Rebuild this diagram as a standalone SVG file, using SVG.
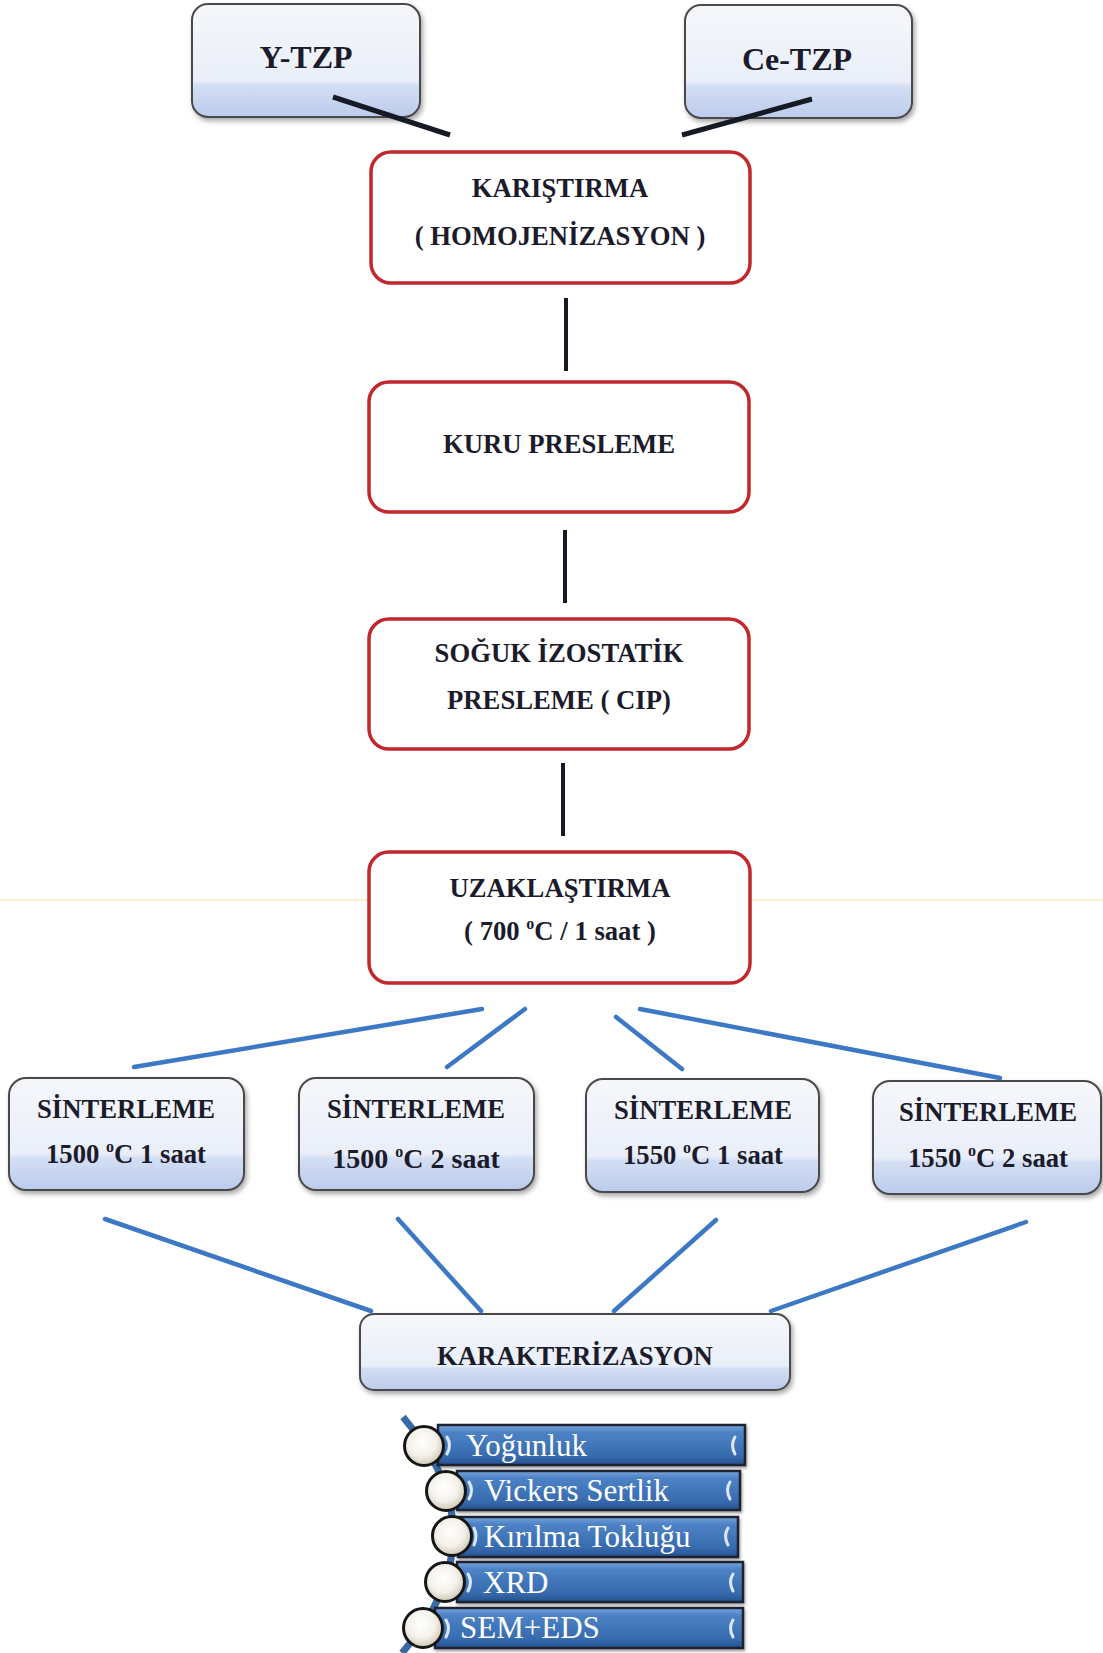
<svg xmlns="http://www.w3.org/2000/svg" width="1103" height="1653" viewBox="0 0 1103 1653">
<defs>
<linearGradient id="lb" x1="0" y1="0" x2="0" y2="1">
<stop offset="0" stop-color="#f6f7fb"/>
<stop offset="0.68" stop-color="#e9eef8"/>
<stop offset="0.72" stop-color="#d3def4"/>
<stop offset="1" stop-color="#bccbec"/>
</linearGradient>
<linearGradient id="bar" x1="0" y1="0" x2="0" y2="1">
<stop offset="0" stop-color="#79a5dc"/>
<stop offset="0.18" stop-color="#4d83c6"/>
<stop offset="0.8" stop-color="#3669ad"/>
<stop offset="1" stop-color="#24508c"/>
</linearGradient>
<radialGradient id="circ" cx="0.45" cy="0.4" r="0.6">
<stop offset="0" stop-color="#ffffff"/>
<stop offset="0.6" stop-color="#f4f1ea"/>
<stop offset="1" stop-color="#cfc7b6"/>
</radialGradient>
<filter id="sh" x="-10%" y="-10%" width="125%" height="135%">
<feDropShadow dx="2" dy="3" stdDeviation="2.5" flood-color="#000" flood-opacity="0.35"/>
</filter>
<filter id="sh2" x="-10%" y="-20%" width="125%" height="150%">
<feDropShadow dx="1" dy="2" stdDeviation="1.5" flood-color="#000" flood-opacity="0.4"/>
</filter>
</defs>
<style>
.t{font-family:"Liberation Serif","Times New Roman",serif;font-weight:bold;fill:#1b1b2b;text-anchor:middle;font-size:26.7px}
.big{font-size:32px}
.b28{font-size:28px}
.lt{font-family:"Liberation Serif","Times New Roman",serif;fill:#ffffff;font-size:31px}
.lbx{fill:url(#lb);stroke:#4a4a4a;stroke-width:2;filter:url(#sh)}
.rbx{fill:#ffffff;stroke:#c1272d;stroke-width:3.5}
.blk{stroke:#161a24;stroke-width:5;stroke-linecap:butt}
.vl{stroke:#161a24;stroke-width:4}
.bl{stroke:#3c78c3;stroke-width:4.5;stroke-linecap:round}
.barr{fill:url(#bar);stroke:#1c2230;stroke-width:2.5;filter:url(#sh2)}
.cc{fill:url(#circ);stroke:#161616;stroke-width:3}
.dec{fill:none;stroke:#dce8f8;stroke-width:3;stroke-linecap:round}
.sup{font-size:16px}
</style>

<line x1="0" y1="900" x2="1103" y2="900" stroke="#f3e4a6" stroke-width="1.5" opacity="0.7"/>

<g id="n-ytzp">
<rect class="lbx" x="192" y="4" width="228" height="113" rx="16"/>
<text class="t big" x="306" y="68">Y-TZP</text>
</g>
<g id="n-cetzp">
<rect class="lbx" x="685" y="5" width="227" height="113" rx="16"/>
<text class="t big" x="797" y="70">Ce-TZP</text>
</g>

<g id="n-karistirma">
<rect class="rbx" x="371" y="152" width="379" height="131" rx="20"/>
<text class="t" x="560" y="197">KARIŞTIRMA</text>
<text class="t" x="560" y="245">( HOMOJENİZASYON )</text>
</g>
<g id="n-kuru">
<rect class="rbx" x="369" y="382" width="380" height="130" rx="20"/>
<text class="t" x="559" y="453">KURU PRESLEME</text>
</g>
<g id="n-cip">
<rect class="rbx" x="369" y="619" width="380" height="130" rx="20"/>
<text class="t" x="559" y="662">SOĞUK İZOSTATİK</text>
<text class="t" x="559" y="709">PRESLEME ( CIP)</text>
</g>
<g id="n-uzak">
<rect class="rbx" x="369" y="852" width="381" height="131" rx="20"/>
<text class="t" x="560" y="897">UZAKLAŞTIRMA</text>
<text class="t" x="560" y="940">( 700 <tspan class="sup" dy="-11">o</tspan><tspan dy="11">C / 1 saat )</tspan></text>
</g>

<g id="n-s1">
<rect class="lbx" x="9" y="1078" width="235" height="112" rx="17"/>
<text class="t" x="126" y="1118">SİNTERLEME</text>
<text class="t" x="126" y="1163">1500 <tspan class="sup" dy="-11">o</tspan><tspan dy="11">C 1 saat</tspan></text>
</g>
<g id="n-s2">
<rect class="lbx" x="299" y="1078" width="235" height="112" rx="17"/>
<text class="t" x="416" y="1118">SİNTERLEME</text>
<text class="t b28" x="416" y="1168">1500 <tspan class="sup" dy="-11">o</tspan><tspan dy="11">C 2 saat</tspan></text>
</g>
<g id="n-s3">
<rect class="lbx" x="586" y="1079" width="233" height="113" rx="17"/>
<text class="t" x="703" y="1119">SİNTERLEME</text>
<text class="t" x="703" y="1164">1550 <tspan class="sup" dy="-11">o</tspan><tspan dy="11">C 1 saat</tspan></text>
</g>
<g id="n-s4">
<rect class="lbx" x="873" y="1081" width="228" height="113" rx="17"/>
<text class="t" x="988" y="1121">SİNTERLEME</text>
<text class="t" x="988" y="1167">1550 <tspan class="sup" dy="-11">o</tspan><tspan dy="11">C 2 saat</tspan></text>
</g>

<g id="n-karakter">
<rect class="lbx" x="360" y="1314" width="430" height="76" rx="14"/>
<text class="t" x="575" y="1365">KARAKTERİZASYON</text>
</g>

<g id="connectors">
<line class="blk" x1="333" y1="97" x2="450" y2="135"/>
<line class="blk" x1="812" y1="99" x2="682" y2="135"/>
<line class="vl" x1="566" y1="298" x2="566" y2="371"/>
<line class="vl" x1="565" y1="530" x2="565" y2="603"/>
<line class="vl" x1="563" y1="763" x2="563" y2="836"/>
<line class="bl" x1="134" y1="1067" x2="482" y2="1009"/>
<line class="bl" x1="447" y1="1067" x2="525" y2="1009"/>
<line class="bl" x1="616" y1="1017" x2="682" y2="1069"/>
<line class="bl" x1="640" y1="1009" x2="1000" y2="1078"/>
<line class="bl" x1="105" y1="1219" x2="371" y2="1311"/>
<line class="bl" x1="398" y1="1219" x2="481" y2="1311"/>
<line class="bl" x1="716" y1="1220" x2="614" y2="1311"/>
<line class="bl" x1="1026" y1="1222" x2="771" y2="1311"/>
</g>

<g id="n-list">
<path d="M403,1417 Q504,1535 402,1653" fill="none" stroke="#3a6aa6" stroke-width="7"/>
<g id="item-1">
<rect class="barr" x="438" y="1425" width="307" height="40"/>
<path class="dec" d="M447,1437 q5,8 0,17"/>
<path class="dec" d="M735,1437 q-5,8 0,17"/>
<circle class="cc" cx="424" cy="1446" r="19.5"/>
<text class="lt" x="466" y="1456">Yoğunluk</text>
</g>
<g id="item-2">
<rect class="barr" x="457" y="1471" width="283" height="39"/>
<path class="dec" d="M469,1482 q5,8 0,17"/>
<path class="dec" d="M730,1482 q-5,8 0,17"/>
<circle class="cc" cx="446" cy="1491" r="19.5"/>
<text class="lt" x="484" y="1501">Vickers Sertlik</text>
</g>
<g id="item-3">
<rect class="barr" x="458" y="1517" width="280" height="40"/>
<path class="dec" d="M474,1528 q4,8 0,17"/>
<path class="dec" d="M728,1528 q-5,8 0,17"/>
<circle class="cc" cx="452" cy="1536" r="19.5"/>
<text class="lt" x="484" y="1547">Kırılma Tokluğu</text>
</g>
<g id="item-4">
<rect class="barr" x="457" y="1562" width="286" height="40"/>
<path class="dec" d="M468,1574 q5,8 0,17"/>
<path class="dec" d="M733,1574 q-5,8 0,17"/>
<circle class="cc" cx="445" cy="1582" r="19.5"/>
<text class="lt" x="483" y="1593">XRD</text>
</g>
<g id="item-5">
<rect class="barr" x="435" y="1608" width="308" height="40"/>
<path class="dec" d="M446,1620 q5,8 0,17"/>
<path class="dec" d="M733,1620 q-5,8 0,17"/>
<circle class="cc" cx="423" cy="1628" r="19.5"/>
<text class="lt" x="460" y="1638">SEM+EDS</text>
</g>
</g>
</svg>
